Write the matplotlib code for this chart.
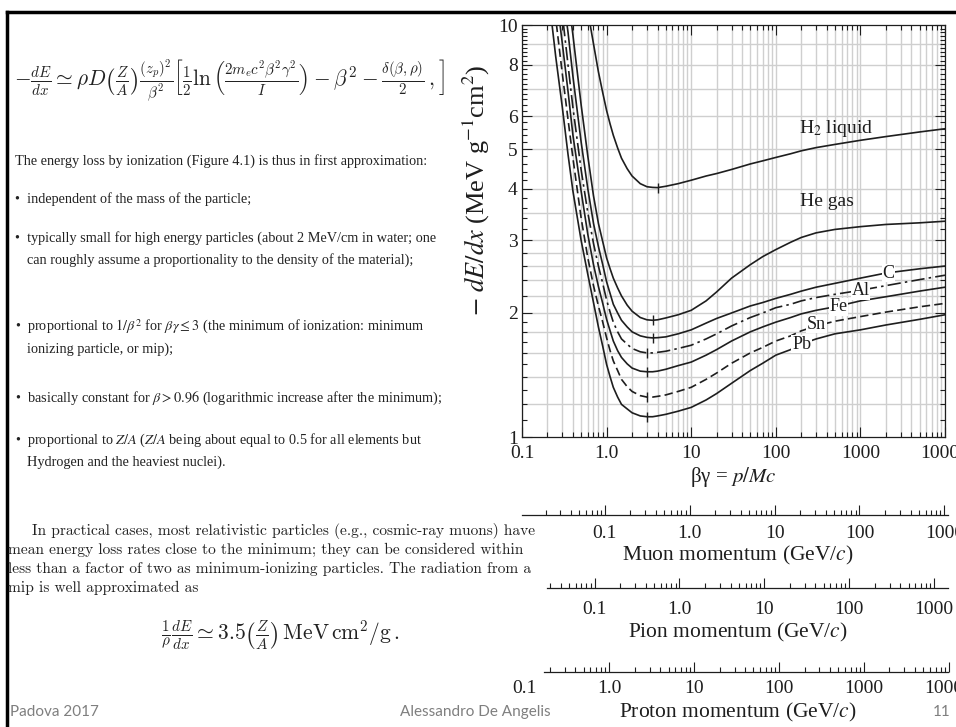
import numpy as np
import matplotlib
matplotlib.use("Agg")
import matplotlib.pyplot as plt
from matplotlib.lines import Line2D
from matplotlib.ticker import FixedLocator, NullFormatter

nan = np.nan

# ---------------- data ----------------
betagamma = [0.2, 0.25, 0.3, 0.35, 0.4, 0.5, 0.6, 0.7, 0.8, 0.9, 1.0, 1.1, 1.2, 1.35, 1.5, 1.75,
             2, 2.5, 3, 3.5, 4, 5, 7, 10, 15, 20, 30, 50, 70,
             100, 150, 200, 300, 500, 1000, 2000, 5000, 10000]

h2_liquid = [nan, nan, nan, nan, nan, 14.0, 10.8, 9.0, 7.7, 6.85, 6.2, 5.75, 5.4, 5.03, 4.75, 4.48,
             4.3, 4.12, 4.05, 4.035, 4.03, 4.06, 4.12, 4.2, 4.3, 4.36, 4.46, 4.6, 4.68,
             4.77, 4.87, 4.95, 5.04, 5.13, 5.25, 5.36, 5.5, 5.6]
he_gas = [25, 18, 14.0, 11.8, 9.45, 6.4, 4.8, 3.85, 3.3, 2.98, 2.72, 2.56, 2.43, 2.3, 2.2, 2.09,
          2.02, 1.95, 1.925, 1.92, 1.925, 1.945, 1.98, 2.03, 2.14, 2.25, 2.43, 2.62, 2.74,
          2.85, 2.97, 3.05, 3.13, 3.19, 3.24, 3.28, 3.31, 3.34]
carbon = [23, 16.2, 12.2, 9.6, 7.5, 5.2, 4.0, 3.3, 2.9, 2.62, 2.38, 2.23, 2.1, 2.0, 1.92, 1.85,
          1.80, 1.76, 1.745, 1.74, 1.742, 1.75, 1.78, 1.82, 1.89, 1.94, 2.00, 2.08, 2.12,
          2.17, 2.22, 2.26, 2.31, 2.36, 2.43, 2.50, 2.56, 2.60]
aluminium = [20, 14.2, 10.6, 8.0, 6.3, 4.45, 3.5, 2.95, 2.6, 2.36, 2.15, 2.01, 1.9, 1.8, 1.73, 1.68,
             1.64, 1.61, 1.60, 1.60, 1.605, 1.615, 1.64, 1.67, 1.73, 1.78, 1.86, 1.95, 2.0,
             2.06, 2.10, 2.14, 2.18, 2.22, 2.27, 2.33, 2.41, 2.47]
iron = [17.5, 12.2, 9.0, 6.9, 5.4, 3.95, 3.1, 2.62, 2.32, 2.11, 1.93, 1.81, 1.71, 1.62, 1.56, 1.505,
        1.47, 1.445, 1.44, 1.44, 1.445, 1.46, 1.49, 1.52, 1.58, 1.63, 1.71, 1.80, 1.85,
        1.90, 1.95, 1.99, 2.03, 2.07, 2.14, 2.19, 2.26, 2.31]
tin = [15.0, 10.4, 7.6, 5.9, 4.75, 3.4, 2.72, 2.33, 2.08, 1.9, 1.74, 1.62, 1.53, 1.45, 1.38, 1.325,
       1.29, 1.26, 1.25, 1.25, 1.255, 1.265, 1.29, 1.32, 1.38, 1.43, 1.51, 1.60, 1.65,
       1.71, 1.76, 1.81, 1.86, 1.91, 1.96, 2.01, 2.07, 2.11]
lead = [12.5, 8.4, 6.3, 4.85, 3.95, 3.0, 2.48, 2.12, 1.85, 1.66, 1.50, 1.40, 1.32, 1.25, 1.20, 1.17,
        1.145, 1.125, 1.12, 1.12, 1.125, 1.135, 1.155, 1.18, 1.23, 1.275, 1.35, 1.45, 1.51,
        1.58, 1.63, 1.68, 1.73, 1.78, 1.82, 1.87, 1.93, 1.98]

curve_names = ["H$_2$ liquid", "He gas", "C", "Al", "Fe", "Sn", "Pb"]
label_pos_bg = [520, 400, 2140, 1000, 550, 302, 202]
label_pos_val = [5.62, 3.72, 2.50, 2.27, 2.07, 1.88, 1.68]

y_ticks = [1, 2, 3, 4, 5, 6, 8, 10]
y_ticklabels = ["1", "2", "3", "4", "5", "6", "8", "10"]
y_grid = [1.2, 1.4, 1.6, 1.8, 2.0, 2.2, 2.4, 2.6, 2.8, 3.0, 3.5, 4, 5, 6, 7, 8, 9]
x_ticks = [0.1, 1, 10, 100, 1000, 10000]
x_ticklabels = ["0.1", "1.0", "10", "100", "1000", "10000"]

mom_names = ["Muon", "Pion", "Proton"]
mom_masses = [0.10566, 0.13957, 0.93827]
mom_ticks = [[0.1, 1, 10, 100, 1000],
             [0.1, 1, 10, 100, 1000],
             [0.1, 1, 10, 100, 1000, 10000]]
mom_ticklabels = [["0.1", "1.0", "10", "100", "1000"],
                  ["0.1", "1.0", "10", "100", "1000"],
                  ["0.1", "1.0", "10", "100", "1000", "10000"]]

# ---------------- layout ----------------
W, H = 956, 727
fig = plt.figure(figsize=(W / 100, H / 100), dpi=100)
fig.patch.set_facecolor("white")

def fx(px):
    return px / W

def fy(py):
    return 1 - py / H

SERIF = ["Liberation Serif", "DejaVu Serif"]
INK = "#1e1e1e"

L, R, T, B = 522, 945, 25, 437
ax = fig.add_axes([fx(L), fy(B), (R - L) / W, (B - T) / H])
ax.set_xscale("log")
ax.set_yscale("log")
ax.set_xlim(0.1, 1e4)
ax.set_ylim(1, 10)

# grid
ax.xaxis.set_minor_locator(matplotlib.ticker.LogLocator(base=10, subs=np.arange(2, 10)))
ax.grid(True, which="both", axis="x", color="#cfcfcf", lw=1.0)
for gy in y_grid:
    ax.axhline(gy, color="#cfcfcf", lw=1.0, zorder=0.5)

ax.set_xticks(x_ticks)
ax.set_xticklabels(x_ticklabels)
ax.xaxis.set_minor_formatter(NullFormatter())
ax.set_yticks(y_ticks)
ax.set_yticklabels(y_ticklabels)
ymin_ticks = [v for v in np.round(np.concatenate([np.arange(1.1, 2.0, 0.1), np.arange(2.2, 10, 0.2)]), 2)
              if v not in y_ticks]
ax.yaxis.set_minor_locator(FixedLocator(ymin_ticks))
ax.yaxis.set_minor_formatter(NullFormatter())
ax.tick_params(which="both", direction="in", top=True, right=True, color=INK, width=0.8)
ax.tick_params(which="major", length=7)
ax.tick_params(which="minor", length=3.5)
ax.tick_params(axis="x", which="major", pad=6, labelsize=14)
ax.tick_params(axis="y", which="major", pad=3, labelsize=14)
for lab in ax.get_xticklabels() + ax.get_yticklabels():
    lab.set_family(SERIF)
    lab.set_color(INK)
for s in ax.spines.values():
    s.set_color(INK)
    s.set_linewidth(0.9)

# curves
curves = [h2_liquid, he_gas, carbon, aluminium, iron, tin, lead]
styles = ["-", "-", "-", (0, (8, 2.5, 1.5, 2.5)), "-", (0, (5, 2.5)), "-"]
for vals, ls, name, lx, ly in zip(curves, styles, curve_names, label_pos_bg, label_pos_val):
    ax.plot(betagamma, vals, color=INK, lw=1.2, ls=ls, zorder=3)
    arr = np.array(vals, dtype=float)
    i = int(np.nanargmin(arr))
    ax.plot([betagamma[i]], [arr[i]], marker="|", ms=7, mew=1.0, color=INK, zorder=4)
    big = name.startswith("H") or name.startswith("He")
    ax.text(lx, ly, name, ha="center", va="center", fontsize=14 if big else 13,
            family=SERIF, color=INK, zorder=5, math_fontfamily="stix",
            bbox=None if big else dict(facecolor="white", edgecolor="none", pad=0.5))

ax.set_xlabel("βγ = $p/Mc$", family=SERIF, fontsize=15, color=INK, labelpad=2,
              math_fontfamily="stix")
ax.set_ylabel(r"$-\ dE/dx$ (MeV g$^{-1}$cm$^2$)", family=SERIF, fontsize=19,
              color=INK, math_fontfamily="stix")
ax.yaxis.set_label_coords(-0.072, 0.6)

# momentum axes
axis_rows = [515, 588, 672]
axis_starts = [522, 553, 550]
title_rows = [555, 632, 712]
label_pads = [7.5, 9, 6]
R2 = 952
bg_per_px = 4.0 / (R - L)  # decades per pixel of the main axis
for name, m, tks, tls, yrow, x0, trow, pd in zip(mom_names, mom_masses, mom_ticks, mom_ticklabels,
                                                 axis_rows, axis_starts, title_rows, label_pads):
    a2 = fig.add_axes([fx(L), fy(yrow), (R2 - L) / W, 1e-4])
    a2.set_xscale("log")
    hi_bg = 10 ** (4 + (R2 - R) * bg_per_px)
    a2.set_xlim(0.1 * m, hi_bg * m)
    lo = 10 ** (-1 + (x0 - L) * bg_per_px) * m
    hi = 10 ** (4 + 2 * bg_per_px) * m
    for s in ["top", "left", "right"]:
        a2.spines[s].set_visible(False)
    a2.spines["bottom"].set_bounds(lo, hi)
    a2.spines["bottom"].set_color(INK)
    a2.spines["bottom"].set_linewidth(0.9)
    a2.set_yticks([])
    a2.set_xticks(tks)
    a2.set_xticklabels(tls)
    minors = [k * 10.0 ** e for e in range(-3, 5) for k in range(2, 10)]
    minors = [v for v in minors if lo <= v <= hi]
    a2.xaxis.set_minor_locator(FixedLocator(minors))
    a2.xaxis.set_minor_formatter(NullFormatter())
    a2.tick_params(which="both", direction="in", color=INK, width=0.8)
    a2.tick_params(which="major", length=7, pad=pd, labelsize=14)
    a2.tick_params(which="minor", length=3.5)
    for t, v in zip(a2.xaxis.get_major_ticks(), tks):
        if v < lo:
            t.tick1line.set_visible(False)
    for lab in a2.get_xticklabels():
        lab.set_family(SERIF)
        lab.set_color(INK)
    a2.patch.set_visible(False)
    fig.text(fx(738), fy(trow), name + " momentum (GeV/$c$)", ha="center", va="center",
             family=SERIF, fontsize=15.5, color=INK, math_fontfamily="stix")

# ---------------- left text column ----------------
TXT = "#222222"
fig.text(fx(14), fy(81),
         r"$-\frac{dE}{dx} \simeq \rho D\left(\frac{Z}{A}\right)\frac{(z_p)^2}{\beta^2}"
         r"\left[\frac{1}{2}\ln\left(\frac{2m_ec^2\beta^2\gamma^2}{I}\right) - \beta^2"
         r" - \frac{\delta(\beta,\rho)}{2}\,,\right]$",
         ha="left", va="center", fontsize=15.4, color=TXT, math_fontfamily="cm")

bullet_lines = [
    (15, 161, "The energy loss by ionization (Figure 4.1) is thus in first approximation:"),
    (15, 199, "•  independent of the mass of the particle;"),
    (15, 238, "•  typically small for high energy particles (about 2 MeV/cm in water; one"),
    (27, 260, "can roughly assume a proportionality to the density of the material);"),
    (15, 327, r"•  proportional to $1/\beta^2$ for $\beta\gamma \leq 3$ (the minimum of ionization: minimum"),
    (27, 349, "ionizing particle, or mip);"),
    (15, 398, r"•  basically constant for $\beta > 0.96$ (logarithmic increase after the minimum);"),
    (15, 440, r"•  proportional to $Z/A$ ($Z/A$ being about equal to 0.5 for all elements but"),
    (27, 462, "Hydrogen and the heaviest nuclei)."),
]
for x, y, s in bullet_lines:
    fig.text(fx(x), fy(y), s, ha="left", va="center", family=SERIF, fontsize=10.3,
             color=TXT, math_fontfamily="stix")

para_lines = [
    (32, 531, "In practical cases, most relativistic particles (e.g., cosmic-ray muons) have"),
    (8, 550, "mean energy loss rates close to the minimum; they can be considered within"),
    (8, 569, "less than a factor of two as minimum-ionizing particles. The radiation from a"),
    (8, 588, "mip is well approximated as"),
]
for x, y, s in para_lines:
    fig.text(fx(x), fy(y), s, ha="left", va="center", family=["cmr10", "DejaVu Serif"],
             fontsize=11.1, color=TXT)

fig.text(fx(280), fy(635),
         r"$\frac{1}{\rho}\frac{dE}{dx} \simeq 3.5\left(\frac{Z}{A}\right)\,\mathrm{MeV\,cm^2/g}\,.$",
         ha="center", va="center", fontsize=15.5, color=TXT, math_fontfamily="cm")

# footer
FOOT = "#7f7f7f"
fig.text(fx(10), fy(712), "Padova 2017", ha="left", va="center", family="Lato", fontsize=11, color=FOOT)
fig.text(fx(475), fy(712), "Alessandro De Angelis", ha="center", va="center", family="Lato",
         fontsize=11, color=FOOT)
fig.text(fx(951), fy(712), "11", ha="right", va="center", family="Lato", fontsize=11, color=FOOT)

# slide frame
fig.add_artist(Line2D([fx(7), 1.0], [fy(12), fy(12)], transform=fig.transFigure, color="black", lw=2.5))
fig.add_artist(Line2D([fx(7), fx(7)], [fy(12), 0.0], transform=fig.transFigure, color="black", lw=2.5))

fig.savefig("out.png", dpi=100, facecolor="white")
